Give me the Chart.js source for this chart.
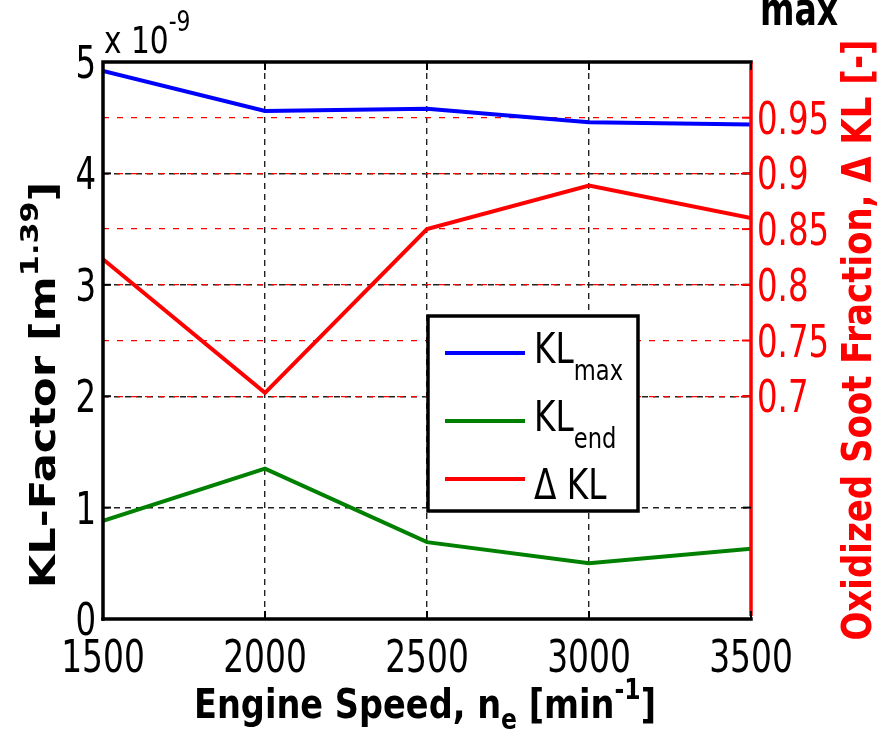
<!DOCTYPE html>
<html>
<head>
<meta charset="utf-8">
<script src="https://cdn.jsdelivr.net/npm/chart.js@4.4.0/dist/chart.umd.min.js"></script>
<style>
html, body { margin: 0; padding: 0; background: #fff; }
canvas { display: block; }
</style>
</head>
<body>
<canvas id="myChart" width="879" height="736"></canvas>
<script>
// data
var speeds = [1500, 2000, 2500, 3000, 3500]
var klMax = [4.92, 4.56, 4.58, 4.46, 4.44]
var klEnd = [0.88, 1.35, 0.69, 0.50, 0.63]
var deltaKL = [0.823, 0.703, 0.850, 0.889, 0.860]
var leftTicks = [0, 1, 2, 3, 4, 5]
var rightTicks = [0.7, 0.75, 0.8, 0.85, 0.9, 0.95]

var FONT = 'DejaVu Sans'

function fnt(size, bold) {
    return (bold ? 'bold ' : '') + size + 'px "' + FONT + '"'
}

// parts: [text, size, bold, dy]
function partsWidth(ctx, parts) {
    let w = 0
    parts.forEach((p) => {
        ctx.font = fnt(p[1], p[2])
        w += ctx.measureText(p[0]).width
    })
    return w
}

function drawText(ctx, parts, x, y, o) {
    o = o || {}
    let kx = o.kx || 1
    let ky = o.ky || 1
    let w = partsWidth(ctx, parts)
    let cx = o.align == 'left' ? 0 : o.align == 'right' ? -w : -w / 2
    ctx.save()
    ctx.translate(x, y)
    if (o.rot) ctx.rotate(o.rot)
    ctx.scale(kx, ky)
    ctx.fillStyle = o.color || '#000'
    ctx.textBaseline = 'alphabetic'
    ctx.textAlign = 'left'
    parts.forEach((p) => {
        ctx.font = fnt(p[1], p[2])
        ctx.fillText(p[0], cx, p[3] || 0)
        cx += ctx.measureText(p[0]).width
    })
    ctx.restore()
}

function isRightTick(v) {
    return rightTicks.some((t) => Math.abs(t - v) < 1e-6)
}

function line(ctx, x1, y1, x2, y2) {
    ctx.beginPath()
    ctx.moveTo(x1, y1)
    ctx.lineTo(x2, y2)
    ctx.stroke()
}

var decorations = {
    id: 'decorations',
    afterDraw(chart) {
        const ctx = chart.ctx
        const a = chart.chartArea
        const sx = chart.scales.x
        const sy = chart.scales.y
        const sy1 = chart.scales.y1

        ctx.save()
        // frame
        ctx.lineCap = 'square'
        ctx.lineWidth = 3.5
        ctx.strokeStyle = '#000'
        ctx.beginPath()
        ctx.moveTo(a.left, a.bottom)
        ctx.lineTo(a.left, a.top)
        ctx.lineTo(a.right, a.top)
        ctx.stroke()
        line(ctx, a.left, a.bottom, a.right, a.bottom)
        ctx.strokeStyle = '#f00'
        ctx.lineCap = 'butt'
        line(ctx, a.right, a.top, a.right, a.bottom - 3)

        // inner ticks
        ctx.lineWidth = 2
        ctx.strokeStyle = '#000'
        speeds.forEach((v) => {
            let px = sx.getPixelForValue(v)
            line(ctx, px, a.bottom, px, a.bottom - 8)
            line(ctx, px, a.top, px, a.top + 8)
        })
        leftTicks.forEach((v) => {
            let py = sy.getPixelForValue(v)
            line(ctx, a.left, py, a.left + 8, py)
            line(ctx, a.right, py, a.right - 8, py)
        })
        ctx.strokeStyle = '#f00'
        rightTicks.forEach((v) => {
            let py = sy1.getPixelForValue(v)
            line(ctx, a.right, py, a.right - 9, py)
        })
        ctx.restore()

        // tick labels
        leftTicks.forEach((v) => {
            drawText(ctx, [[String(v), 45]], a.left - 7, sy.getPixelForValue(v) + 16, { align: 'right', kx: 0.72 })
        })
        rightTicks.forEach((v) => {
            drawText(ctx, [[String(v), 45]], a.right + 6, sy1.getPixelForValue(v) + 16, { align: 'left', kx: 0.72, color: '#f00' })
        })
        speeds.forEach((v) => {
            drawText(ctx, [[String(v), 45]], sx.getPixelForValue(v), a.bottom + 53, { kx: 0.73 })
        })

        // axis titles
        drawText(ctx, [['Engine Speed, n', 40, true], ['e', 28, true, 11], [' [min', 40, true], ['-1', 28, true, -19], [']', 40, true]],
            425, 718, { kx: 0.84 })
        drawText(ctx, [['KL-Factor [m', 40, true], ['1.39', 28, true, -19], [']', 40, true]],
            55, 385, { rot: -Math.PI / 2, kx: 1.08, ky: 0.9 })
        drawText(ctx, [['Oxidized Soot Fraction, \u0394 KL [-]', 40, true]],
            871, 340, { rot: -Math.PI / 2, kx: 0.85, color: '#f00' })

        // exponent and clipped title piece
        drawText(ctx, [['x 10', 38], ['-9', 28, false, -22]], 104, 53, { align: 'left', kx: 0.78 })
        drawText(ctx, [['max', 46, true]], 760, 25, { align: 'left', kx: 0.72 })

        // legend
        ctx.save()
        ctx.fillStyle = '#fff'
        ctx.fillRect(428, 316, 210, 195)
        ctx.lineWidth = 3.5
        ctx.strokeStyle = '#000'
        ctx.strokeRect(428, 316, 210, 195)
        ctx.lineWidth = 4
        let rows = [
            { color: '#0000ff', y: 353, parts: [['KL', 42], ['max', 29, false, 17]] },
            { color: '#008000', y: 421, parts: [['KL', 42], ['end', 29, false, 17]] },
            { color: '#ff0000', y: 479, parts: [['\u0394 KL', 42]] }
        ]
        rows.forEach((r) => {
            ctx.strokeStyle = r.color
            line(ctx, 445, r.y, 525, r.y)
        })
        ctx.restore()
        drawText(ctx, rows[0].parts, 534, 363, { align: 'left', kx: 0.78 })
        drawText(ctx, rows[1].parts, 534, 431, { align: 'left', kx: 0.78 })
        drawText(ctx, rows[2].parts, 534, 499, { align: 'left', kx: 0.78 })
    }
}

const ctx = document.getElementById('myChart')

new Chart(ctx, {
    type: 'line',
    data: {
        datasets: [
            {
                label: 'KLmax',
                data: speeds.map((s, i) => ({ x: s, y: klMax[i] })),
                borderColor: '#0000ff',
                borderWidth: 4,
                pointRadius: 0,
                yAxisID: 'y'
            },
            {
                label: 'KLend',
                data: speeds.map((s, i) => ({ x: s, y: klEnd[i] })),
                borderColor: '#008000',
                borderWidth: 4,
                pointRadius: 0,
                yAxisID: 'y'
            },
            {
                label: 'Delta KL',
                data: speeds.map((s, i) => ({ x: s, y: deltaKL[i] })),
                borderColor: '#ff0000',
                borderWidth: 4,
                pointRadius: 0,
                yAxisID: 'y1'
            }
        ]
    },
    options: {
        responsive: false,
        animation: false,
        devicePixelRatio: 1,
        layout: { padding: { top: 62, left: 0, right: 0, bottom: 0 } },
        plugins: {
            legend: { display: false },
            tooltip: { enabled: false }
        },
        scales: {
            x: {
                type: 'linear',
                min: 1500,
                max: 3500,
                ticks: { display: false, stepSize: 500 },
                grid: {
                    color: (c) => (c.tick && c.tick.value > 1500 && c.tick.value < 3500) ? '#222' : 'rgba(0,0,0,0)',
                    lineWidth: 1.4,
                    drawTicks: false
                },
                border: { display: false, dash: [6, 5] },
                afterFit: (s) => { s.height = 117 }
            },
            y: {
                position: 'left',
                min: 0,
                max: 5,
                ticks: { display: false, stepSize: 1 },
                grid: {
                    color: (c) => (c.tick && c.tick.value > 0 && c.tick.value < 5) ? '#222' : 'rgba(0,0,0,0)',
                    lineWidth: 1.4,
                    drawTicks: false
                },
                border: { display: false, dash: [6, 5] },
                afterFit: (s) => { s.width = 103 }
            },
            y1: {
                position: 'right',
                min: 0.5,
                max: 1.0,
                ticks: { display: false, stepSize: 0.05 },
                grid: {
                    color: (c) => (c.tick && isRightTick(c.tick.value)) ? '#ff0000' : 'rgba(0,0,0,0)',
                    lineWidth: 1.3,
                    drawTicks: false
                },
                border: { display: false, dash: [6, 8] },
                afterFit: (s) => { s.width = 128 }
            }
        }
    },
    plugins: [decorations]
});
</script>
</body>
</html>
